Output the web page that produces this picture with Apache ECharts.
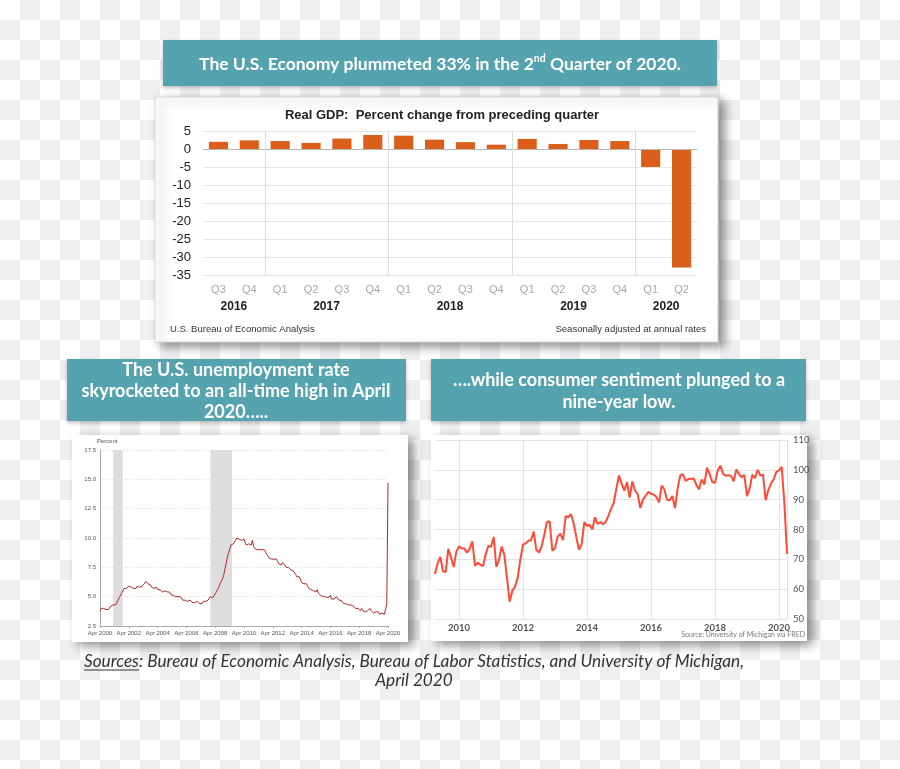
<!DOCTYPE html>
<html><head><meta charset="utf-8">
<script src="https://cdn.jsdelivr.net/npm/echarts@6/dist/echarts.min.js"></script>
<style>
html,body{margin:0;padding:0;}
#c{width:900px;height:769px;background:repeating-conic-gradient(#efefef 0% 25%, #ffffff 0% 50%) 0 0/40px 40px;}
</style></head>
<body><div id="c"></div>
<script>
// ---------- GDP ----------
const quarters = ['Q3','Q4','Q1','Q2','Q3','Q4','Q1','Q2','Q3','Q4','Q1','Q2','Q3','Q4','Q1','Q2'];
const gdpChange = [2.0,2.4,2.2,1.7,2.9,3.9,3.7,2.6,1.9,1.2,2.8,1.4,2.5,2.2,-5.0,-32.9];
const gdpYears = ['2016','2017','2018','2019','2020'];
const quartersPerYear = [2,4,4,4,2];

// ---------- Unemployment rate, monthly, Apr 2000 - Apr 2020 ----------
const unemploymentRate = [
  3.8,4.0,4.0,4.0,4.1,3.9,3.9,3.9,3.9,
  4.2,4.2,4.3,4.4,4.3,4.5,4.6,4.9,5.0,5.3,5.5,5.7,
  5.7,5.7,5.7,5.9,5.8,5.8,5.8,5.7,5.7,5.7,5.9,6.0,
  5.8,5.9,5.9,6.0,6.1,6.3,6.2,6.1,6.1,6.0,5.8,5.7,
  5.7,5.6,5.8,5.6,5.6,5.6,5.5,5.4,5.4,5.5,5.4,5.4,
  5.3,5.4,5.2,5.2,5.1,5.0,5.0,4.9,5.0,5.0,5.0,4.9,
  4.7,4.8,4.7,4.7,4.6,4.6,4.7,4.7,4.5,4.4,4.5,4.4,
  4.6,4.5,4.4,4.5,4.4,4.6,4.7,4.6,4.7,4.7,4.7,5.0,
  5.0,4.9,5.1,5.0,5.4,5.6,5.8,6.1,6.1,6.5,6.8,7.3,
  7.8,8.3,8.7,9.0,9.4,9.5,9.5,9.6,9.8,10.0,9.9,9.9,
  9.8,9.8,9.9,9.9,9.6,9.4,9.4,9.5,9.5,9.4,9.8,9.3,
  9.1,9.0,9.0,9.1,9.0,9.1,9.0,9.0,9.0,8.8,8.6,8.5,
  8.3,8.3,8.2,8.2,8.2,8.2,8.2,8.1,7.8,7.8,7.7,7.9,
  8.0,7.7,7.5,7.6,7.5,7.5,7.3,7.2,7.2,7.2,6.9,6.7,
  6.6,6.7,6.7,6.2,6.3,6.1,6.2,6.1,5.9,5.7,5.8,5.6,
  5.7,5.5,5.4,5.4,5.6,5.3,5.2,5.1,5.0,5.0,5.1,5.0,
  4.9,4.9,5.0,5.1,4.8,4.9,4.8,4.9,5.0,4.9,4.7,4.7,
  4.7,4.6,4.4,4.4,4.4,4.3,4.3,4.4,4.3,4.2,4.2,4.1,
  4.0,4.1,4.0,4.0,3.8,4.0,3.8,3.8,3.7,3.8,3.8,3.9,
  4.0,3.8,3.8,3.6,3.6,3.7,3.6,3.7,3.5,3.6,3.6,3.6,
  3.5,3.5,4.4,14.7
];
const recessions = [['2001-03','2001-11'],['2007-12','2009-06']];

// ---------- Consumer sentiment, monthly, Apr 2009 - Apr 2020 ----------
const sentiment = [
  65.1,68.7,70.8,66.0,65.7,73.5,70.6,67.4,72.5,
  74.4,73.6,73.6,72.2,73.6,76.0,67.8,68.9,68.2,67.7,71.6,74.5,
  74.2,77.5,67.5,69.8,74.3,71.5,63.7,55.8,59.5,60.8,63.7,69.9,
  75.0,75.3,76.2,76.4,79.3,73.2,72.3,74.3,78.3,82.6,82.7,72.9,
  73.8,77.6,78.6,76.4,84.5,84.1,85.1,82.1,77.5,73.2,75.1,82.5,
  81.2,81.6,80.0,84.1,81.9,82.5,81.8,82.5,84.6,86.9,88.8,93.6,
  98.1,95.4,93.0,95.9,90.7,96.1,93.1,91.9,87.2,90.0,91.3,92.6,
  92.0,91.7,91.0,89.0,94.7,93.5,90.0,89.8,91.2,87.2,93.8,98.2,
  98.5,96.3,96.9,97.0,97.1,95.0,93.4,96.8,95.1,100.7,98.5,95.9,
  95.7,99.7,101.4,98.8,98.0,98.2,97.9,96.2,100.1,98.6,97.5,98.3,
  91.2,93.8,98.4,97.2,100.0,98.2,98.4,89.8,93.2,95.5,96.8,99.3,
  99.8,101.0,89.1,71.8
];

function months(y, m, n) {
  const out = [];
  for (let i = 0; i < n; i++) {
    out.push(y + '-' + String(m).padStart(2, '0'));
    m++; if (m > 12) { m = 1; y++; }
  }
  return out;
}
const unempMonths = months(2000, 4, unemploymentRate.length);
const sentMonths = months(2009, 4, sentiment.length);
const monNames = ['Jan','Feb','Mar','Apr','May','Jun','Jul','Aug','Sep','Oct','Nov','Dec'];

const yearCenters = [], yearBounds = [];
{ let acc = 0; quartersPerYear.forEach((q, i) => { yearCenters.push(acc + q / 2); acc += q; if (i < quartersPerYear.length - 1) yearBounds.push(acc); }); }

// measure the sources line so "Sources" can be underlined
const srcSize = 17.2;
const srcWord = 'Sources';
const srcRest = ': Bureau of Economic Analysis, Bureau of Labor Statistics, and University of Michigan,';
const mctx = document.createElement('canvas').getContext('2d');
mctx.font = 'italic ' + srcSize + 'px Lato';
const wWord = mctx.measureText(srcWord).width;
const wAll = mctx.measureText(srcWord + srcRest).width;
const srcCenter = 414;
const srcLeft = srcCenter - wAll / 2;

const teal = '#55A3AE';
const shadow = { shadowBlur: 10, shadowColor: 'rgba(0,0,0,0.45)', shadowOffsetX: 6, shadowOffsetY: 4 };
const bannerFont = { fontFamily: 'Lato', fontWeight: 'bold', fill: '#fff' };
const srcStyle = { fontFamily: 'Lato', fontStyle: 'italic', fontSize: srcSize, fill: '#333', verticalAlign: 'middle' };

const chart = echarts.init(document.getElementById('c'));
chart.setOption({
  backgroundColor: 'transparent',
  animation: false,
  title: [{
    text: 'Real GDP:  Percent change from preceding quarter',
    left: 437, top: 104, textAlign: 'center',
    textStyle: { fontFamily: 'Liberation Sans', fontSize: 13, fontWeight: 'bold', color: '#222' }
  }],
  graphic: [
    { type: 'rect', z: -10, shape: { x: 155, y: 97, width: 563, height: 245 }, style: Object.assign({ fill: '#fff', stroke: '#d6d6d6', lineWidth: 1 }, shadow) },
    { type: 'rect', z: -10, shape: { x: 163, y: 40, width: 554, height: 46 }, style: { fill: teal, shadowBlur: 4, shadowColor: 'rgba(0,0,0,0.25)', shadowOffsetY: 2 } },
    { type: 'text', z: 10, x: 440, y: 64, style: {
        text: '{a|The U.S. Economy plummeted 33% in the 2}{s|nd}{a| Quarter of 2020.}',
        align: 'center', verticalAlign: 'middle', fill: '#fff',
        rich: { a: { fontSize: 17.5, fill: '#fff', color: '#fff', fontFamily: 'Lato', fontWeight: 'bold' },
                s: { fontSize: 10.5, fill: '#fff', color: '#fff', fontFamily: 'Lato', fontWeight: 'bold', padding: [0, 0, 10, 0] } } } },
    { type: 'text', x: 170, y: 329, style: { text: 'U.S. Bureau of Economic Analysis', fontFamily: 'Liberation Sans', fontSize: 9.5, fill: '#333', verticalAlign: 'middle' } },
    { type: 'text', x: 706, y: 329, style: { text: 'Seasonally adjusted at annual rates', fontFamily: 'Liberation Sans', fontSize: 9.5, fill: '#333', align: 'right', verticalAlign: 'middle' } },

    { type: 'rect', z: -10, shape: { x: 72, y: 435, width: 336, height: 207 }, style: Object.assign({ fill: '#fff' }, shadow) },
    { type: 'rect', z: -10, shape: { x: 67, y: 359, width: 339, height: 62 }, style: { fill: teal, shadowBlur: 4, shadowColor: 'rgba(0,0,0,0.25)', shadowOffsetY: 2 } },
    { type: 'text', z: 10, x: 236, y: 391, style: Object.assign({ text: 'The U.S. unemployment rate\nskyrocketed to an all-time high in April\n2020…..', fontSize: 18, lineHeight: 21, align: 'center', verticalAlign: 'middle' }, bannerFont) },
    { type: 'text', x: 97, y: 441, style: { text: 'Percent', fontFamily: 'Liberation Sans', fontSize: 6, fill: '#555', verticalAlign: 'middle' } },

    { type: 'rect', z: -10, shape: { x: 431, y: 435, width: 376, height: 206 }, style: Object.assign({ fill: '#fff' }, shadow) },
    { type: 'rect', z: -10, shape: { x: 431, y: 359, width: 375, height: 62 }, style: { fill: teal, shadowBlur: 4, shadowColor: 'rgba(0,0,0,0.25)', shadowOffsetY: 2 } },
    { type: 'text', z: 10, x: 619, y: 391, style: Object.assign({ text: '….while consumer sentiment plunged to a\nnine-year low.', fontSize: 18, lineHeight: 22, align: 'center', verticalAlign: 'middle' }, bannerFont) },
    { type: 'text', x: 805, y: 635, style: { text: 'Source: University of Michigan via FRED', fontFamily: 'Lato', fontSize: 7, fill: '#777', align: 'right', verticalAlign: 'middle' } },

    { type: 'text', x: srcLeft, y: 661, style: Object.assign({ text: srcWord }, srcStyle) },
    { type: 'text', x: srcLeft + wWord, y: 661, style: Object.assign({ text: srcRest }, srcStyle) },
    { type: 'text', x: srcCenter, y: 680, style: Object.assign({ text: 'April 2020', align: 'center' }, srcStyle) },
    { type: 'rect', shape: { x: srcLeft, y: 669.5, width: wWord, height: 0.9 }, style: { fill: '#333' } }
  ],
  grid: [
    { left: 203, right: 203, top: 131, bottom: 494 },
    { left: 100, right: 512, top: 450, bottom: 143 },
    { left: 435, right: 113, top: 440, bottom: 150 }
  ],
  xAxis: [
    { gridIndex: 0, type: 'category', data: quarters, axisLine: { show: false }, axisTick: { show: false },
      axisLabel: { color: '#a8a8a8', fontSize: 11, margin: 9, fontFamily: 'Liberation Sans' } },
    { gridIndex: 0, type: 'value', min: 0, max: 16, interval: 1, position: 'bottom',
      axisLine: { show: false }, axisTick: { show: false }, splitLine: { show: false },
      axisLabel: { margin: 26, fontSize: 12, fontWeight: 'bold', color: '#222', fontFamily: 'Liberation Sans',
        showMinLabel: true, showMaxLabel: true,
        formatter: v => { const i = yearCenters.indexOf(v); return i >= 0 ? gdpYears[i] : ''; } } },
    { gridIndex: 1, type: 'category', data: unempMonths, boundaryGap: false,
      axisLine: { lineStyle: { color: '#aaa' } },
      axisTick: { interval: 23, length: 2, lineStyle: { color: '#aaa' } },
      axisLabel: { interval: 23, fontSize: 6, color: '#555', margin: 4, fontFamily: 'Liberation Sans',
        formatter: v => monNames[+v.slice(5) - 1] + ' ' + v.slice(0, 4) } },
    { gridIndex: 2, type: 'category', data: sentMonths, boundaryGap: false,
      axisLine: { show: false }, axisTick: { show: false },
      axisLabel: { fontSize: 9.5, color: '#555', margin: 4, fontFamily: 'Lato', fontWeight: 'bold',
        interval: (i, v) => v.slice(5) === '01' && (+v.slice(0, 4)) % 2 === 0,
        formatter: v => v.slice(0, 4) },
      splitLine: { show: true, lineStyle: { color: '#e4e4e4' },
        interval: (i, v) => v.slice(5) === '01' && (+v.slice(0, 4)) % 2 === 0 } }
  ],
  yAxis: [
    { gridIndex: 0, type: 'value', min: -35, max: 5, interval: 5,
      axisLabel: { fontSize: 13, color: '#222', margin: 12, fontFamily: 'Liberation Sans' },
      splitLine: { lineStyle: { color: '#e6e6e6' } }, axisLine: { show: false }, axisTick: { show: false } },
    { gridIndex: 1, type: 'value', min: 2.5, max: 17.5, interval: 2.5,
      axisLabel: { fontSize: 6, color: '#555', margin: 4, formatter: v => v.toFixed(1), fontFamily: 'Liberation Sans' },
      axisLine: { show: true, lineStyle: { color: '#aaa' } }, axisTick: { show: false },
      splitLine: { lineStyle: { color: '#d8d8d8', type: [1, 2] } } },
    { gridIndex: 2, type: 'value', min: 50, max: 110, interval: 10, position: 'right',
      axisLabel: { fontSize: 9.5, color: '#555', margin: 6, fontFamily: 'Lato' },
      axisLine: { show: true, lineStyle: { color: '#e0e0e0' } }, axisTick: { show: false },
      splitLine: { lineStyle: { color: '#e4e4e4' } } }
  ],
  series: [
    { type: 'bar', xAxisIndex: 0, yAxisIndex: 0, data: gdpChange, barCategoryGap: '38%',
      itemStyle: { color: '#D95F1B' },
      markLine: { silent: true, symbol: 'none', label: { show: false }, lineStyle: { color: '#b5b5b5', type: 'solid', width: 1 },
        data: [{ yAxis: 0 }] } },
    { type: 'scatter', xAxisIndex: 1, yAxisIndex: 0, data: [], silent: true,
      markLine: { silent: true, symbol: 'none', label: { show: false }, lineStyle: { color: '#dcdcdc', type: 'solid', width: 1 },
        data: yearBounds.map(b => ({ xAxis: b })) } },
    { type: 'line', xAxisIndex: 2, yAxisIndex: 1, data: unemploymentRate, showSymbol: false,
      lineStyle: { color: '#B0262A', width: 1 },
      markArea: { silent: true, itemStyle: { color: '#dddddd' },
        data: recessions.map(r => [{ xAxis: r[0] }, { xAxis: r[1] }]) } },
    { type: 'line', xAxisIndex: 3, yAxisIndex: 2, data: sentiment, showSymbol: false,
      lineStyle: { color: '#FF4A36', width: 2 } }
  ]
});
</script></body></html>
